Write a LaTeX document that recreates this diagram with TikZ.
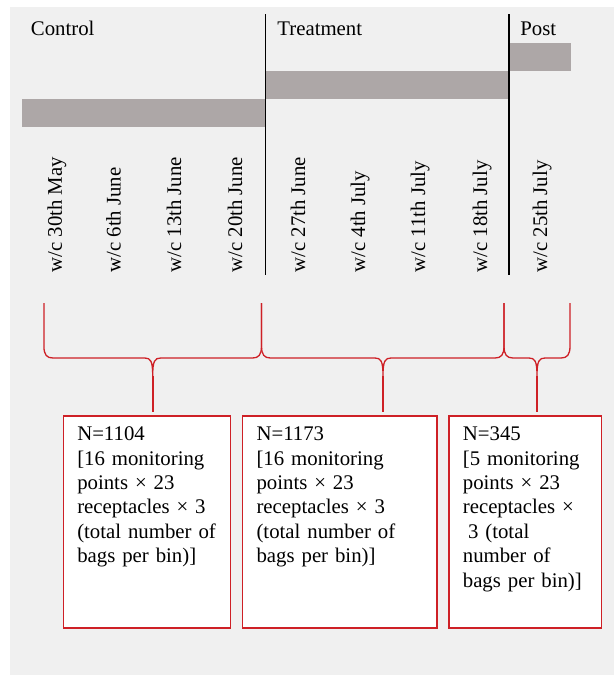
\documentclass[tikz,border=0pt]{standalone}
\usepackage{fontspec}
\setmainfont{Liberation Serif}
\usepackage{tikz}
\usetikzlibrary{positioning}

\definecolor{panelgray}{RGB}{240,240,240}
\definecolor{bargray}{RGB}{173,167,167}
\definecolor{boxred}{RGB}{206,32,38}

% curly brace: left x, cusp x, right x, name of cusp
\newcommand{\redbrace}[4]{%
  \draw[bracepath] (#1,303) -- (#1,346) .. controls (#1,355) and (#1+3,358) .. (#1+9,358)
    -- (#2-8,358) .. controls (#2-2,358) and (#2,361) .. (#2,376) coordinate (#4)
    .. controls (#2,361) and (#2+2,358) .. (#2+8,358)
    -- (#3-9,358) .. controls (#3-3,358) and (#3,355) .. (#3,346) -- (#3,303);
}

\begin{document}
\begin{tikzpicture}[
    x=0.5pt, y=-0.5pt,
    font=\fontsize{10.4}{12.2}\selectfont,
    node distance=5.2pt,
    phase/.style={anchor=base west, inner sep=0pt},
    date/.style={rotate=90, anchor=base west, inner sep=0pt},
    bar/.style={fill=bargray},
    divider/.style={draw, line width=0.75pt},
    bracepath/.style={draw=boxred, line width=0.65pt},
    stem/.style={draw=boxred, line width=1pt, shorten >=1.6pt},
    box/.style={
        draw=boxred,
        fill=white,
        line width=0.75pt,
        inner xsep=7pt,
        inner ysep=0pt,
        text height=12.5pt,
        text depth=93.5pt,
        align=left
    }
]

\useasboundingbox (0,0) rectangle (614,675);
\fill[panelgray] (10,7) rectangle (614,675);

% phases
\node[phase] (control) at (30.5,35) {Control};
\node[phase] (treatment) at (277,35) {Treatment};
\node[phase] (post) at (520,35) {Post};

\fill[bar] (22.3,99.3) rectangle (265.5,127.3);
\fill[bar] (265.5,71) rectangle (509,99.3);
\fill[bar] (509,43.3) rectangle (571,71);

\draw[divider] (265.5,14) -- (265.5,275);
\draw[divider] (509,14) -- (509,275);

% weeks
\node[date] (wk1) at (61.8,273) {w/c 30th May};
\node[date] (wk2) at (120.5,273) {w/c 6th June};
\node[date] (wk3) at (181,273) {w/c 13th June};
\node[date] (wk4) at (242,273) {w/c 20th June};
\node[date] (wk5) at (305,273) {w/c 27th June};
\node[date] (wk6) at (365,273) {w/c 4th July};
\node[date] (wk7) at (425,273) {w/c 11th July};
\node[date] (wk8) at (487,273) {w/c 18th July};
\node[date] (wk9) at (547,273) {w/c 25th July};

% sample sizes
\node[box, text width=69.7pt, anchor=north west] (ctrlbox) at (62.5,415) {
N=1104\\
{[}16 monitoring\\
points × 23\\
receptacles × 3\\
(total number of\\
bags per bin)]
};

\node[box, text width=83.2pt, right=of ctrlbox] (treatbox) {
N=1173\\
{[}16 monitoring\\
points × 23\\
receptacles × 3\\
(total number of\\
bags per bin)]
};

\node[box, text width=62.3pt, right=of treatbox] (postbox) {
N=345\\
{[}5 monitoring\\
points × 23\\
receptacles ×\\
\hspace*{0.25em}3 (total\\
number of\\
bags per bin)]
};

\redbrace{43.9}{152.7}{261.5}{ctrltip}
\redbrace{261.5}{383}{504}{treattip}
\redbrace{504}{537}{570}{posttip}

\draw[stem] (ctrltip) -- (ctrltip |- ctrlbox.north);
\draw[stem] (treattip) -- (treattip |- treatbox.north);
\draw[stem, line width=0.7pt] (posttip) -- (posttip |- postbox.north);

\end{tikzpicture}
\end{document}
